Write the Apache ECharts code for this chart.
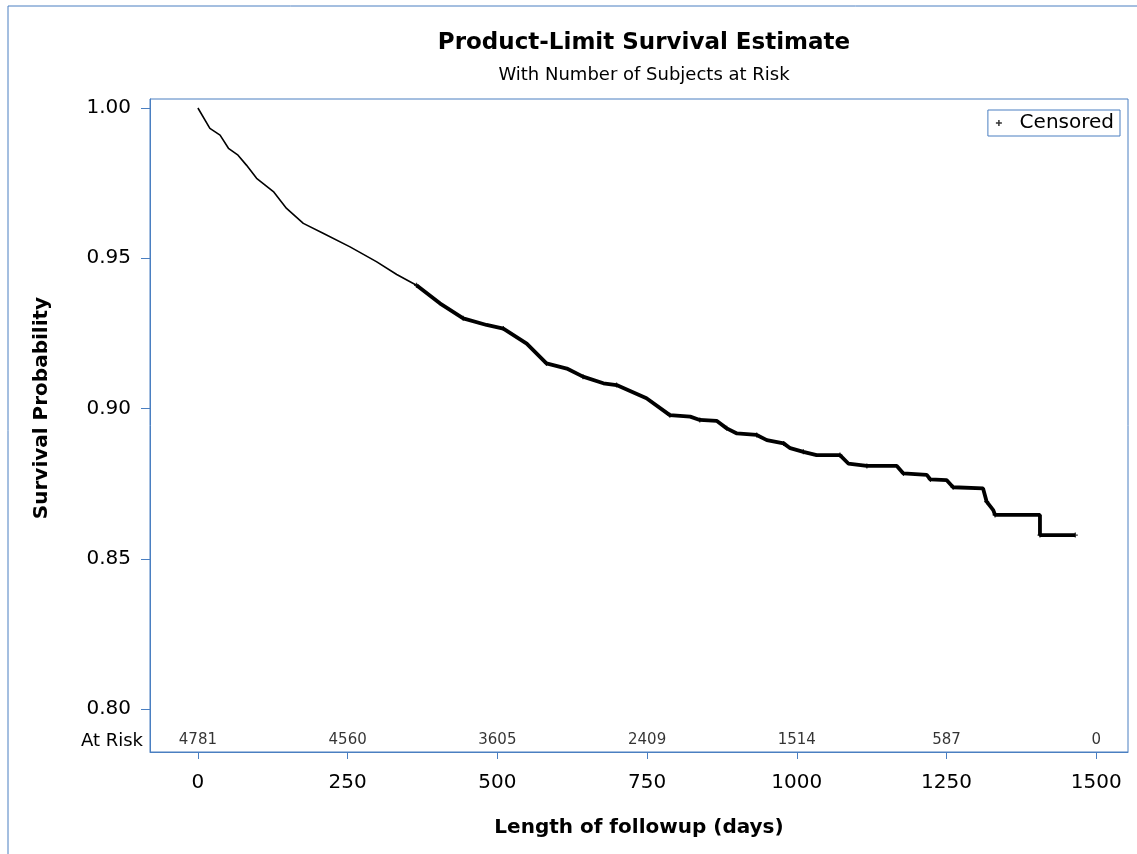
<!DOCTYPE html>
<html>
<head>
<meta charset="utf-8">
<script src="https://cdn.jsdelivr.net/npm/echarts@6/dist/echarts.min.js"></script>
<style>
html,body{margin:0;padding:0;background:#fff;}
#chart{width:1137px;height:854px;}
</style>
</head>
<body>
<div id="chart"></div>
<script>
// ---- data ----
const xTicks = [0, 250, 500, 750, 1000, 1250, 1500];
const yTicks = [0.80, 0.85, 0.90, 0.95, 1.00];
const atRiskDays = [0, 250, 500, 750, 1000, 1250, 1500];
const atRiskCounts = [4781, 4560, 3605, 2409, 1514, 587, 0];
// early part of the Kaplan-Meier curve (few censored obs, thin)
const survivalEarly = [
  [0,1.000],[20,0.9932],[37,0.9910],[51,0.9866],[67,0.9843],[81,0.9810],[98,0.9766],
  [126,0.9722],[148,0.9666],[176,0.9616],[209,0.9583],[254,0.9538],[298,0.9489],
  [332,0.9446],[365,0.9410]
];
// later part (dense censoring, thick)
const survivalLate = [
  [365,0.9410],[404,0.9350],[443,0.9300],[482,0.9278],[510,0.9266],[549,0.9216],
  [582,0.9150],[616,0.9133],[643,0.9106],[677,0.9084],[699,0.9078],[749,0.9034],
  [788,0.8978],[822,0.8973],[838,0.8962],[866,0.8959],[883,0.8934],[900,0.8917],
  [933,0.8912],[950,0.8895],[978,0.8884],[989,0.8868],[1011,0.8856],[1033,0.8845],
  [1072,0.8845],[1086,0.8817],[1117,0.8809],[1167,0.8809],[1178,0.8784],[1217,0.8779],
  [1223,0.8764],[1250,0.8762],[1261,0.8738],[1311,0.8734],[1317,0.8690],[1328,0.8662],
  [1331,0.8646],[1406,0.8646],[1406,0.8579],[1465,0.8579]
];
const censored = survivalLate.filter((p, i) => i % 2 === 0).concat([[1465,0.8579]]);

const BLUE = '#4a7fc1';
const FONT = 'DejaVu Sans';
const plusPath = 'path://M3,0H5V3H8V5H5V8H3V5H0V3H3Z';

const chart = echarts.init(document.getElementById('chart'));
chart.setOption({
  animation: false,
  backgroundColor: '#fff',
  title: [
    { text: 'Product-Limit Survival Estimate', left: 639, top: 27, textAlign: 'center',
      textStyle: { fontFamily: FONT, fontSize: 23, fontWeight: 'bold', color: '#000' } },
    { text: 'With Number of Subjects at Risk', left: 639, top: 61, textAlign: 'center',
      textStyle: { fontFamily: FONT, fontSize: 18, fontWeight: 'normal', color: '#000' } }
  ],
  legend: {
    right: 17, top: 110,
    data: [{ name: 'Censored', icon: plusPath }],
    formatter: name => '  ' + name,
    itemWidth: 6, itemHeight: 6, itemGap: 6,
    borderColor: BLUE, borderWidth: 1, padding: [3, 6, 3, 8],
    textStyle: { fontFamily: FONT, fontSize: 20, color: '#000' }
  },
  grid: { left: 150, top: 99, width: 978, height: 653, show: true,
          borderColor: BLUE, borderWidth: 1, backgroundColor: '#fff' },
  xAxis: {
    type: 'value', min: -80, max: 1553,
    name: 'Length of followup (days)', nameLocation: 'middle', nameGap: 66,
    nameTextStyle: { fontFamily: FONT, fontSize: 20, fontWeight: 'bold', color: '#000' },
    axisLine: { show: true, onZero: false, lineStyle: { color: BLUE, width: 1 } },
    axisTick: { show: true, length: 7, lineStyle: { color: BLUE }, customValues: xTicks },
    axisLabel: { customValues: xTicks, margin: 21, fontFamily: FONT, fontSize: 20, color: '#000',
                 formatter: v => String(v) },
    splitLine: { show: false }
  },
  yAxis: {
    type: 'value', min: 0.7857, max: 1.003,
    axisLine: { show: true, onZero: false, lineStyle: { color: BLUE, width: 1 } },
    axisTick: { show: true, length: 9, lineStyle: { color: BLUE }, customValues: yTicks },
    axisLabel: { customValues: yTicks, margin: 19, fontFamily: FONT, fontSize: 20, color: '#000',
                 formatter: v => v.toFixed(2) },
    splitLine: { show: false }
  },
  graphic: [
    { type: 'rect', shape: { x: 8, y: 6, width: 1300, height: 1000 }, silent: true, z: -10,
      style: { fill: 'none', stroke: BLUE, lineWidth: 1 } },
    { type: 'text', x: 42, y: 408, rotation: Math.PI / 2,
      style: { text: 'Survival Probability', fontFamily: FONT, fontSize: 20, fontWeight: 'bold',
               fill: '#000', textAlign: 'center', textVerticalAlign: 'middle' } },
    { type: 'text', x: 143, y: 741,
      style: { text: 'At Risk', fontFamily: FONT, fontSize: 18, fill: '#000',
               textAlign: 'right', textVerticalAlign: 'middle' } }
  ],
  series: [
    { name: 'Survival', type: 'line', data: survivalEarly, showSymbol: false,
      lineStyle: { color: '#000', width: 1.6 }, z: 3 },
    { name: 'Survival late', type: 'line', data: survivalLate, showSymbol: false,
      lineStyle: { color: '#000', width: 3.8 }, z: 3 },
    { name: 'Censored', type: 'scatter', data: censored, symbol: plusPath, symbolSize: 5,
      itemStyle: { color: '#000' }, z: 4 },
    { name: 'At Risk', type: 'scatter', symbolSize: 0,
      data: atRiskDays.map((d, i) => [d, 0.7897, atRiskCounts[i]]),
      label: { show: true, position: 'inside', formatter: p => String(p.value[2]),
               fontFamily: FONT, fontSize: 15, color: '#000' } }
  ]
});
</script>
</body>
</html>
